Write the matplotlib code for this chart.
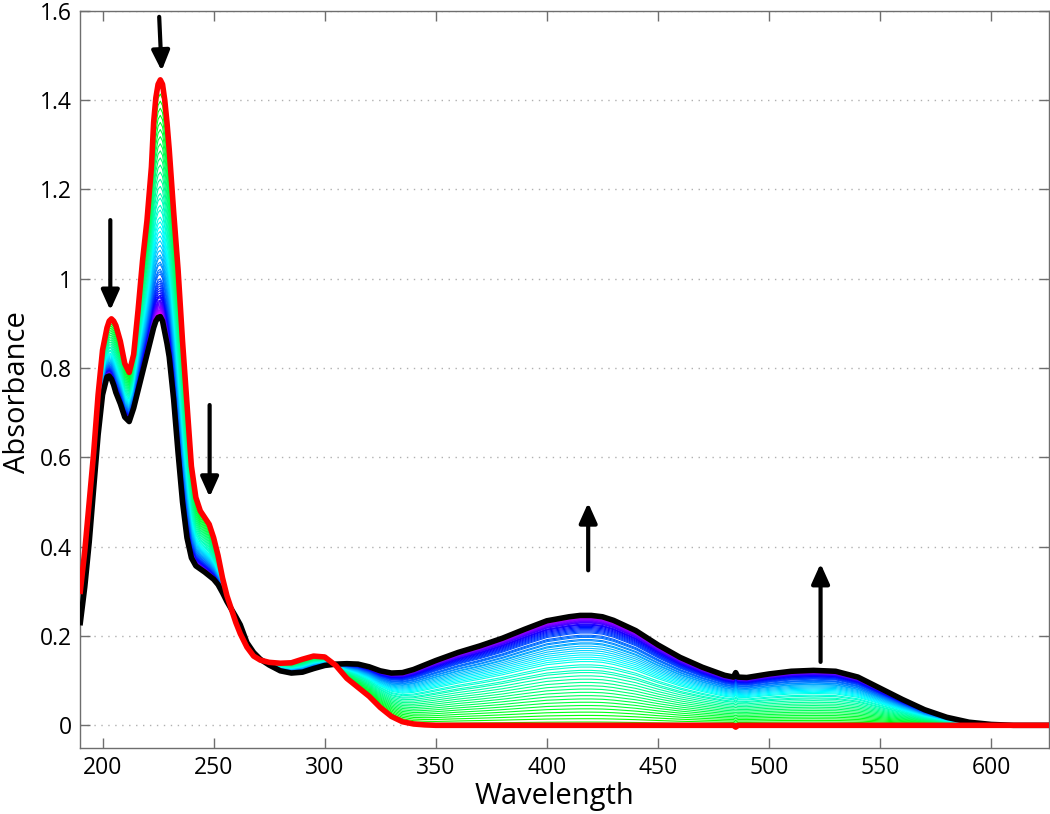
import numpy as np
import matplotlib
matplotlib.use("Agg")
import matplotlib.pyplot as plt

plt.rcParams['font.family'] = ['Open Sans', 'DejaVu Sans']

# Wavelength grid (nm) shared by first and last spectra
wavelength = [190, 192, 194, 196, 198, 200, 202, 203, 204, 205, 206, 208, 210, 212, 214, 216, 218,
              220, 222, 223, 224, 225, 226, 227, 228, 229, 230, 232, 234, 236, 238, 240, 242, 244, 246, 248,
              250, 252, 254, 256, 258, 260, 262, 265, 268, 271, 275, 280, 285, 290, 295,
              300, 305, 310, 315, 320, 325, 330, 335, 340, 345, 350, 360, 370, 380, 390,
              400, 410, 415, 420, 425, 430, 440, 450, 460, 470, 480, 484, 485, 486, 490,
              500, 510, 520, 530, 540, 550, 560, 570, 580, 590, 600, 610, 626]

# First spectrum (red)
abs_first = [0.30, 0.39, 0.50, 0.61, 0.74, 0.84, 0.89, 0.905, 0.91, 0.905, 0.895, 0.86, 0.81, 0.79, 0.83, 0.93, 1.04,
             1.13, 1.25, 1.35, 1.405, 1.435, 1.445, 1.435, 1.40, 1.35, 1.29, 1.15, 1.02, 0.86, 0.72, 0.58, 0.51, 0.48, 0.465, 0.45,
             0.42, 0.38, 0.33, 0.29, 0.26, 0.23, 0.205, 0.175, 0.155, 0.146, 0.141, 0.139, 0.140, 0.148, 0.155,
             0.153, 0.134, 0.105, 0.085, 0.065, 0.040, 0.020, 0.008, 0.003, 0.001, 0.0, 0.0, 0.0, 0.0, 0.0,
             0.0, 0.0, 0.0, 0.0, 0.0, 0.0, 0.0, 0.0, 0.0, 0.0, 0.0, 0.0, -0.004, 0.0, 0.0,
             0.0, 0.0, 0.0, 0.0, 0.0, 0.0, 0.0, 0.0, 0.0, 0.0, 0.0, 0.0, 0.0]

# Last spectrum (black)
abs_last = [0.23, 0.31, 0.41, 0.53, 0.65, 0.74, 0.78, 0.782, 0.775, 0.762, 0.745, 0.72, 0.69, 0.68, 0.71, 0.75, 0.79,
            0.83, 0.87, 0.89, 0.905, 0.913, 0.915, 0.905, 0.88, 0.855, 0.825, 0.73, 0.61, 0.50, 0.42, 0.375, 0.357, 0.35, 0.343, 0.335,
            0.327, 0.315, 0.297, 0.277, 0.26, 0.243, 0.225, 0.185, 0.163, 0.148, 0.135, 0.122, 0.117, 0.119, 0.127,
            0.134, 0.137, 0.138, 0.137, 0.131, 0.122, 0.117, 0.118, 0.125, 0.135, 0.145, 0.163, 0.178, 0.195, 0.215,
            0.234, 0.243, 0.246, 0.246, 0.243, 0.235, 0.212, 0.180, 0.152, 0.130, 0.112, 0.108, 0.118, 0.108, 0.107,
            0.115, 0.121, 0.123, 0.121, 0.108, 0.083, 0.058, 0.035, 0.018, 0.007, 0.002, 0.0, 0.0]

# Progress of each intermediate spectrum (fraction of the way from first to last)
progress = [0.03, 0.06, 0.09, 0.12, 0.15, 0.18, 0.21, 0.24, 0.27, 0.30, 0.33, 0.36, 0.39, 0.42,
            0.45, 0.48, 0.50, 0.53, 0.55, 0.58, 0.60, 0.62, 0.64, 0.66, 0.68, 0.70, 0.72, 0.74,
            0.75, 0.77, 0.78, 0.80, 0.81, 0.82, 0.84, 0.85, 0.86, 0.87, 0.88, 0.89, 0.90, 0.91,
            0.915, 0.92, 0.93, 0.935, 0.94, 0.945, 0.95, 0.955, 0.96, 0.965, 0.97, 0.973, 0.976,
            0.979, 0.982, 0.985, 0.988, 0.99, 0.992, 0.994, 0.996, 0.998]

# Arrows: (x_tail, y_tail, x_head, y_head)
arrows = [(203.5, 1.131, 203.5, 0.929),
          (225.5, 1.586, 226.6, 1.465),
          (248.2, 0.717, 248.2, 0.511),
          (418.6, 0.347, 418.6, 0.498),
          (523.2, 0.142, 523.2, 0.362)]

wl = np.array(wavelength)
a0 = np.array(abs_first)
a1 = np.array(abs_last)

fig = plt.figure(figsize=(10.5, 8.14), dpi=100)
ax = fig.add_axes([0.0765, 0.0815, 0.9225, 0.9055])

cmap = plt.get_cmap('hsv')
n = len(progress)
for i, f in enumerate(progress):
    hue = 0.33 + (0.87 - 0.33) * i / (n - 1)
    ax.plot(wl, a0 + f * (a1 - a0), color=cmap(hue), lw=0.8, zorder=2)

ax.plot(wl, a1, color='black', lw=4.0, zorder=3, solid_joinstyle='round')
ax.plot(wl, a0, color='red', lw=4.0, zorder=4, solid_joinstyle='round')

for (x0, y0, x1, y1) in arrows:
    ax.annotate('', xy=(x1, y1), xytext=(x0, y0),
                arrowprops=dict(arrowstyle='-|>,head_length=1.0,head_width=0.45',
                                color='black', lw=3, shrinkA=0, shrinkB=0,
                                mutation_scale=12), zorder=5)

ax.set_xlim(190, 626)
ax.set_ylim(-0.05, 1.6)
ax.set_xticks([200, 250, 300, 350, 400, 450, 500, 550, 600])
ax.set_yticks([0, 0.2, 0.4, 0.6, 0.8, 1, 1.2, 1.4, 1.6])
ax.set_yticklabels(['0', '0.2', '0.4', '0.6', '0.8', '1', '1.2', '1.4', '1.6'])

ax.yaxis.grid(True, linestyle=(0, (1, 4)), color='#b0b0b0', lw=1.0)
ax.xaxis.grid(False)
ax.set_axisbelow(True)

for s in ax.spines.values():
    s.set_color('#6e6e6e')
    s.set_linewidth(1.0)
ax.tick_params(direction='in', length=7, width=1.0, color='#6e6e6e',
               top=True, right=True, labelsize=16.5, pad=6)

ax.set_xlabel('Wavelength', fontsize=21)
ax.set_ylabel('Absorbance', fontsize=21)
ax.xaxis.set_label_coords(0.4897, -0.047)
ax.yaxis.set_label_coords(-0.050, 0.4826)

fig.savefig('out.png', dpi=100)
